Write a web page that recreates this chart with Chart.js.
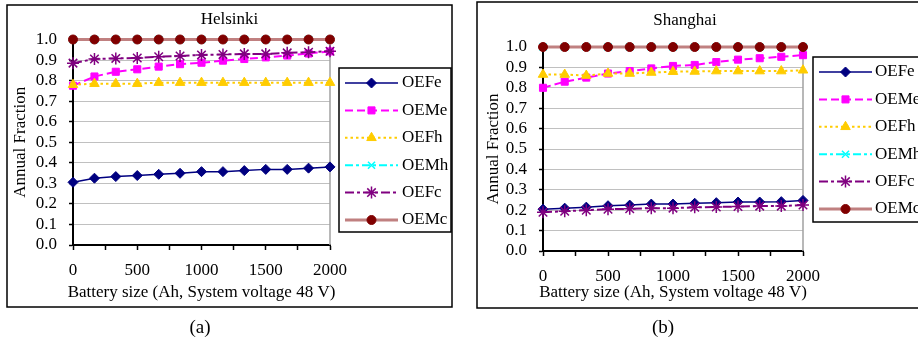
<!DOCTYPE html>
<html>
<head>
<meta charset="utf-8">
<script src="https://cdn.jsdelivr.net/npm/chart.js@4.4.1/dist/chart.umd.min.js"></script>
<style>
  body { margin: 0; background: #fff; width: 918px; height: 343px; overflow: hidden; position: relative; }
  canvas { position: absolute; top: 0; }
  #chartA { left: 0; }
  #chartB { left: 459px; }
</style>
</head>
<body>
<canvas id="chartA" width="459" height="343"></canvas>
<canvas id="chartB" width="459" height="343"></canvas>
<script>
const batterySize = [0, 167, 333, 500, 667, 833, 1000, 1167, 1333, 1500, 1667, 1833, 2000];
const seriesNames = ['OEFe', 'OEMe', 'OEFh', 'OEMh', 'OEFc', 'OEMc'];
const xTitle = 'Battery size (Ah, System voltage 48 V)';
const yTitle = 'Annual Fraction';

// Helsinki
const helOEFe = [0.305, 0.325, 0.333, 0.338, 0.344, 0.349, 0.357, 0.357, 0.362, 0.368, 0.368, 0.374, 0.38];
const helOEMe = [0.775, 0.82, 0.843, 0.855, 0.868, 0.88, 0.887, 0.897, 0.905, 0.913, 0.922, 0.932, 0.942];
const helOEFh = [0.78, 0.785, 0.785, 0.785, 0.79, 0.79, 0.79, 0.79, 0.79, 0.79, 0.79, 0.79, 0.79];
const helOEMh = [1, 1, 1, 1, 1, 1, 1, 1, 1, 1, 1, 1, 1];
const helOEFc = [0.885, 0.905, 0.908, 0.91, 0.916, 0.92, 0.925, 0.927, 0.93, 0.93, 0.935, 0.938, 0.943];
const helOEMc = [1, 1, 1, 1, 1, 1, 1, 1, 1, 1, 1, 1, 1];

// Shanghai
const shaOEFe = [0.205, 0.21, 0.215, 0.222, 0.225, 0.23, 0.23, 0.234, 0.237, 0.24, 0.24, 0.242, 0.248];
const shaOEMe = [0.80, 0.83, 0.85, 0.87, 0.882, 0.895, 0.907, 0.912, 0.926, 0.938, 0.945, 0.952, 0.96];
const shaOEFh = [0.865, 0.865, 0.86, 0.87, 0.87, 0.875, 0.879, 0.88, 0.882, 0.882, 0.882, 0.882, 0.886];
const shaOEMh = [1, 1, 1, 1, 1, 1, 1, 1, 1, 1, 1, 1, 1];
const shaOEFc = [0.19, 0.195, 0.2, 0.205, 0.207, 0.21, 0.21, 0.214, 0.216, 0.218, 0.22, 0.22, 0.225];
const shaOEMc = [1, 1, 1, 1, 1, 1, 1, 1, 1, 1, 1, 1, 1];

const FONT = 'Liberation Serif';

// look of each series (Excel-like)
const looks = [
  { line: '#000080', fill: '#000080', dash: [], width: 1.5, style: 'rectRot', r: 5, bw: 1 },
  { line: '#FF00FF', fill: '#FF00FF', dash: [8, 4], width: 2, style: 'rect', r: 5, bw: 1 },
  { line: '#FFCC00', fill: '#FFCC00', dash: [2.5, 3], width: 2, style: 'triangle', r: 5.5, bw: 1 },
  { line: '#00FFFF', fill: '#00FFFF', dash: [8, 3, 3, 3], width: 2, style: 'crossRot', r: 5, bw: 1.5 },
  { line: '#800080', fill: '#800080', dash: [9, 3, 3, 3], width: 2, style: 'star', r: 6, bw: 1.5 },
  { line: '#C08080', fill: '#800000', dash: [], width: 3, style: 'circle', r: 4.5, bw: 1 }
];

function makeDatasets(seriesList) {
  return seriesList.map((vals, i) => {
    const lk = looks[i];
    return {
      label: seriesNames[i],
      data: vals.map((v, k) => ({ x: batterySize[k], y: v })),
      borderColor: lk.line,
      borderWidth: lk.width,
      borderDash: lk.dash,
      pointStyle: lk.style,
      pointRadius: lk.r,
      pointBackgroundColor: lk.fill,
      pointBorderColor: lk.fill,
      pointBorderWidth: lk.bw,
      tension: 0,
      clip: false,
      order: seriesNames.length - i
    };
  });
}

const panelPlugin = {
  id: 'panel',
  beforeDraw(chart, args, opts) {
    const ctx = chart.ctx;
    ctx.save();
    ctx.strokeStyle = '#000';
    ctx.lineWidth = 1.5;
    ctx.strokeRect(...opts.border);
    ctx.restore();
  },
  beforeDatasetsDraw(chart) {
    const ctx = chart.ctx, a = chart.chartArea;
    ctx.save();
    ctx.strokeStyle = '#A0A0A0';
    ctx.lineWidth = 1.5;
    ctx.beginPath();
    ctx.moveTo(a.right, a.top);
    ctx.lineTo(a.right, a.bottom);
    ctx.stroke();
    ctx.restore();
  },
  afterDraw(chart, args, opts) {
    const ctx = chart.ctx, a = chart.chartArea;
    ctx.save();
    ctx.fillStyle = '#000';
    ctx.textAlign = 'center';
    ctx.textBaseline = 'middle';
    ctx.font = '17px "' + FONT + '"';
    ctx.fillText(opts.title, opts.titleX, opts.titleY);
    ctx.fillText(xTitle, (a.left + a.right) / 2, opts.xTitleY);
    ctx.font = '19px "' + FONT + '"';
    ctx.fillText(opts.caption, opts.captionX, opts.captionY);

    // legend
    const lg = opts.legend;
    ctx.strokeStyle = '#000';
    ctx.lineWidth = 1.5;
    ctx.strokeRect(...lg.box);
    ctx.font = '17px "' + FONT + '"';
    ctx.textAlign = 'left';
    chart.data.datasets.forEach((ds, i) => {
      const y = lg.y0 + i * lg.step;
      ctx.save();
      ctx.strokeStyle = ds.borderColor;
      ctx.lineWidth = ds.borderWidth;
      ctx.setLineDash(ds.borderDash);
      ctx.beginPath();
      ctx.moveTo(lg.x0, y);
      ctx.lineTo(lg.x1, y);
      ctx.stroke();
      ctx.setLineDash([]);
      ctx.fillStyle = ds.pointBackgroundColor;
      ctx.strokeStyle = ds.pointBorderColor;
      ctx.lineWidth = ds.pointBorderWidth;
      Chart.helpers.drawPoint(ctx, {
        pointStyle: ds.pointStyle, radius: ds.pointRadius, borderWidth: ds.pointBorderWidth, rotation: 0
      }, (lg.x0 + lg.x1) / 2, y);
      ctx.restore();
      ctx.fillStyle = '#000';
      ctx.fillText(ds.label, lg.tx, y);
    });
    ctx.restore();
  }
};

function makeChart(id, seriesList, cfg) {
  return new Chart(document.getElementById(id), {
    type: 'line',
    data: { datasets: makeDatasets(seriesList) },
    plugins: [panelPlugin],
    options: {
      responsive: false,
      animation: false,
      layout: { padding: cfg.padding },
      scales: {
        x: {
          type: 'linear',
          min: 0,
          max: 2000,
          afterFit: s => { s.height = cfg.xHeight; },
          ticks: {
            stepSize: 250,
            autoSkip: false,
            maxRotation: 0,
            padding: 10,
            color: '#000',
            font: { family: FONT, size: 17 },
            callback: v => (v % 500 === 0 ? String(v) : '')
          },
          grid: { drawOnChartArea: false, drawTicks: true, tickLength: 5, tickColor: '#000', tickWidth: 1.5 },
          border: { color: '#000', width: 2 }
        },
        y: {
          min: 0,
          max: 1,
          afterFit: s => { s.width = cfg.yWidth; },
          ticks: {
            stepSize: 0.1,
            autoSkip: false,
            padding: 12,
            color: '#000',
            font: { family: FONT, size: 17 },
            callback: v => v.toFixed(1)
          },
          grid: { color: '#C0C0C0', lineWidth: 1, tickLength: 4, tickColor: '#000', tickWidth: 1.5 },
          border: { color: '#000', width: 2 },
          title: {
            display: true,
            text: yTitle,
            color: '#000',
            font: { family: FONT, size: 17 },
            padding: { top: cfg.yTitlePad, bottom: 0 }
          }
        }
      },
      plugins: {
        legend: { display: false },
        tooltip: { enabled: false },
        panel: cfg.panel
      }
    }
  });
}

makeChart('chartA', [helOEFe, helOEMe, helOEFh, helOEMh, helOEFc, helOEMc], {
  padding: { left: 0, top: 39.5, right: 129, bottom: 39.8 },
  xHeight: 58.2,
  yWidth: 73,
  yTitlePad: 10.8,
  panel: {
    border: [7, 5, 445, 302],
    title: 'Helsinki', titleX: 229.5, titleY: 20,
    xTitleY: 293,
    caption: '(a)', captionX: 200, captionY: 328,
    legend: { box: [339, 68, 112, 164], y0: 83, step: 27.4, x0: 345, x1: 398, tx: 402 }
  }
});

makeChart('chartB', [shaOEFe, shaOEMe, shaOEFh, shaOEMh, shaOEFc, shaOEMc], {
  padding: { left: 0, top: 47, right: 115, bottom: 39.8 },
  xHeight: 52.2,
  yWidth: 84,
  yTitlePad: 24.8,
  panel: {
    border: [18, 2, 460, 306],
    title: 'Shanghai', titleX: 226, titleY: 21,
    xTitleY: 293,
    caption: '(b)', captionX: 204, captionY: 328,
    legend: { box: [354, 57, 120, 165], y0: 72, step: 27.4, x0: 360, x1: 413, tx: 416 }
  }
});
</script>
</body>
</html>
